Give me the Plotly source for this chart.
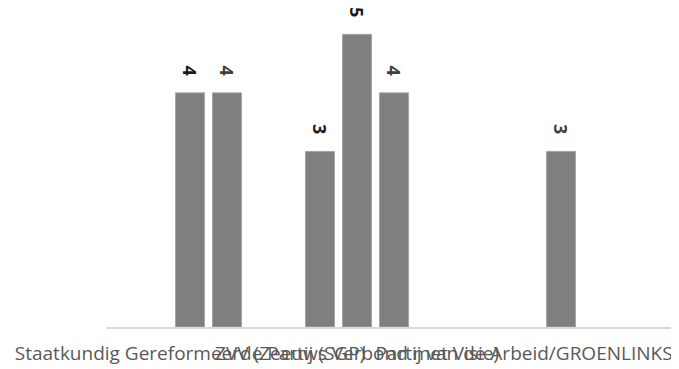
import plotly.graph_objects as go

parties = [
    "Staatkundig Gereformeerde Partij (SGP)",
    "ZVV (Zeeuws Verbond met Visie)",
    "Partij van de Arbeid/GROENLINKS",
]
serie_a = [None, 3, None]
serie_b = [4, 5, None]
serie_c = [4, 4, 3]

bar_grey = "#7f7f7f"

fig = go.Figure()
for values, label_color in [(serie_a, "#1a1a1a"), (serie_b, "#1a1a1a"), (serie_c, "#404040")]:
    fig.add_trace(go.Bar(
        x=parties,
        y=values,
        marker={"color": bar_grey, "line": {"color": "#a6a6a6", "width": 1}},
        texttemplate="%{y}\u00a0\u00a0\u00a0",
        textposition="outside",
        textangle=90,
        textfont={"family": "Open Sans", "size": 18, "color": label_color, "weight": "bold"},
        cliponaxis=False,
        showlegend=False,
    ))

# the page has an 8px body margin, so the figure is sized to the visible area
fig.update_layout(
    barmode="group",
    bargap=0.335,
    bargroupgap=0.216,
    width=671,
    height=361,
    paper_bgcolor="#ffffff",
    plot_bgcolor="#ffffff",
    margin={"l": 98, "r": 0, "t": 0, "b": 42, "autoexpand": False},
    font={"family": "Open Sans", "color": "#595959"},
)
fig.update_xaxes(
    range=[-0.503, 2.928],
    tickangle=0,
    automargin=False,
    showline=True,
    linecolor="#d9d9d9",
    linewidth=2,
    showgrid=False,
    ticks="",
    ticklabelstandoff=8,
    tickfont={"size": 19, "color": "#595959"},
)
fig.update_yaxes(range=[0, 5.45], visible=False, automargin=False)

fig.write_html("out.html")
